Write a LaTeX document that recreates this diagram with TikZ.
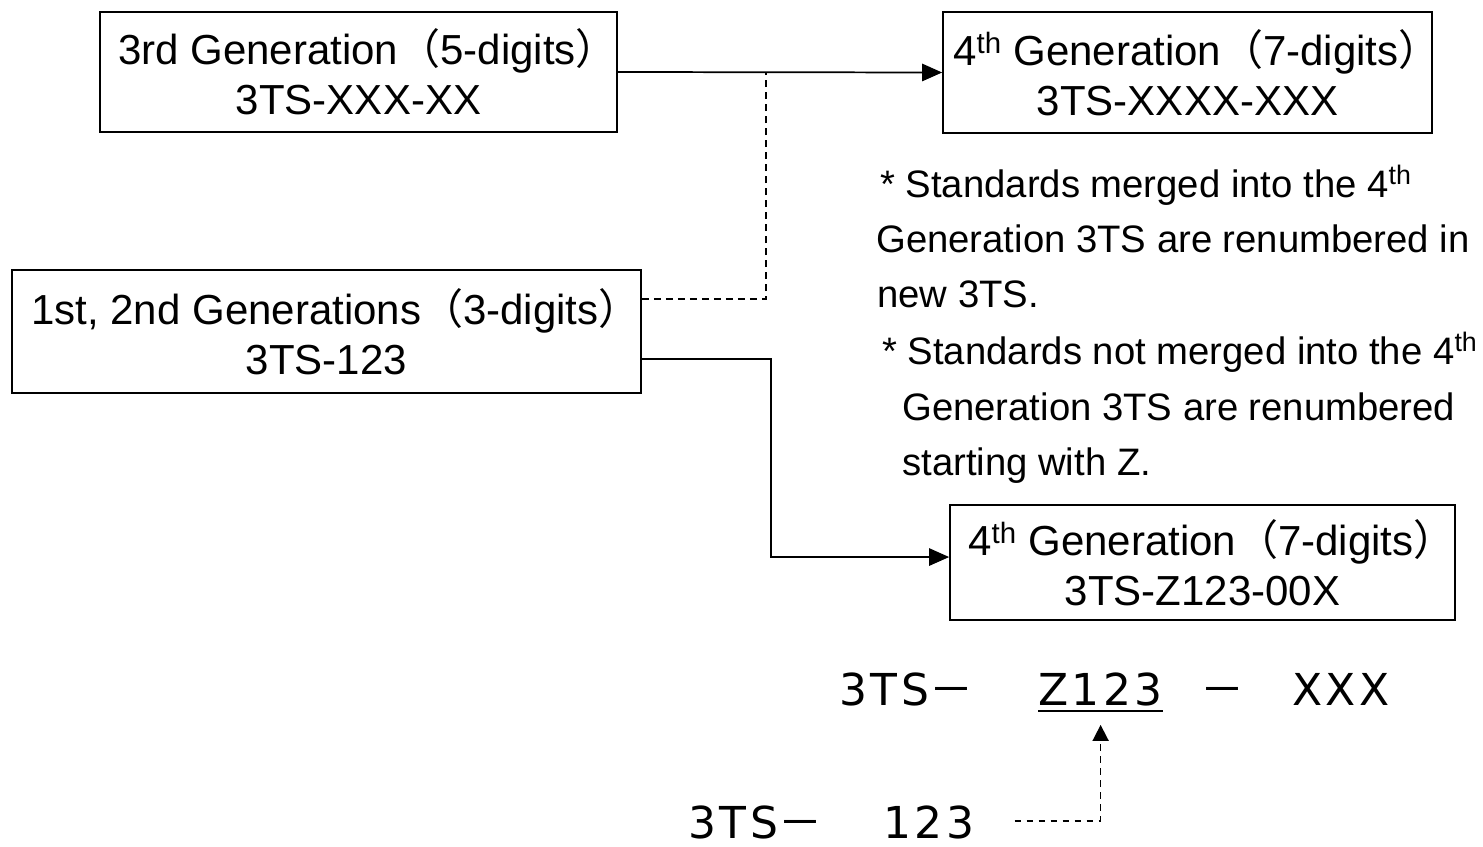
\documentclass[tikz,border=0pt]{standalone}
\usepackage{fontspec}
\setmainfont{Liberation Sans}
\newfontfamily\cjk{Noto Sans CJK JP}
\newfontfamily\gothic{DejaVu Sans}[LetterSpace=8]
\usetikzlibrary{arrows.meta}
\newcommand{\lp}{{\cjk （}}
\newcommand{\rp}{\makebox[0.55em][l]{\cjk ）}}
\newcommand{\fm}{{\cjk －}}
\begin{document}
\begin{tikzpicture}[x=0.75pt,y=-0.75pt,
  box/.style={draw,line width=1.3pt,inner sep=0pt,align=center,
    font=\fontsize{31.5}{37.5}\selectfont},
  note/.style={anchor=base west,inner sep=0pt,font=\fontsize{28.7}{34}\selectfont},
  big/.style={anchor=base west,inner sep=0pt,font=\gothic\fontsize{33}{38}\selectfont},
  conn/.style={line width=1.3pt},
  dsh/.style={line width=1.3pt,dash pattern=on 5pt off 4pt},
  tip/.style={-{Triangle[length=15pt,width=13pt]}},
  tipb/.style={-{Triangle[length=12pt,width=12pt]}}]
\useasboundingbox (0,0) rectangle (1483,846);
% boxes
\node[box,minimum width=387.75pt,minimum height=90pt] (A) at (358.5,72)
  {3rd Generation\lp 5-digits\rp\\3TS-XXX-XX};
\node[box,minimum width=366.75pt,minimum height=90.75pt] (B) at (1187.5,72.5)
  {4\textsuperscript{th} Generation\lp 7-digits\rp\\3TS-XXXX-XXX};
\node[box,minimum width=471.75pt,minimum height=92.25pt] (C) at (326.5,331.5)
  {1st, 2nd Generations\lp 3-digits\rp\\3TS-123};
\node[box,minimum width=378.75pt,minimum height=86.25pt] (D) at (1202.5,562.5)
  {4\textsuperscript{th} Generation\lp 7-digits\rp\\3TS-Z123-00X};
% notes
\node[note] (n1) at (880,197) {* Standards merged into the 4\textsuperscript{th}};
\node[note] (n2) at (876,252) {Generation 3TS are renumbered in};
\node[note] (n3) at (877,307) {new 3TS.};
\node[note] (n4) at (882,364) {* Standards not merged into the 4\textsuperscript{th}};
\node[note] (n5) at (902,420) {Generation 3TS are renumbered};
\node[note] (n6) at (902,475) {starting with Z.};
% connectors
\coordinate (j1) at (766,72);
\coordinate (j2) at (771,557);
\draw[conn,tip] (A.east) -- (B.west);
\draw[dsh] ([yshift=24.4pt]C.east) -| (j1);
\draw[conn,tip] ([yshift=-20.6pt]C.east) -| (j2) -- ([yshift=4.1pt]D.west);
% bottom code
\node[big] (f1) at (839,705) {3TS\fm};
\node[big] (z) at (1038,705) {Z123};
\node[big] (f3) at (1200,705) {\fm};
\node[big] (f4) at (1292,705) {XXX};
\draw[line width=1.6pt] ([yshift=-4.5pt]z.base west) -- ([yshift=-4.5pt]z.base east);
\node[big] (g1) at (688,838) {3TS\fm};
\node[big] (g2) at (883,838) {123};
\draw[dsh,tipb] ([xshift=30pt,yshift=1pt]g2.east) -| ([yshift=-14.25pt]z.south);
\end{tikzpicture}
\end{document}
